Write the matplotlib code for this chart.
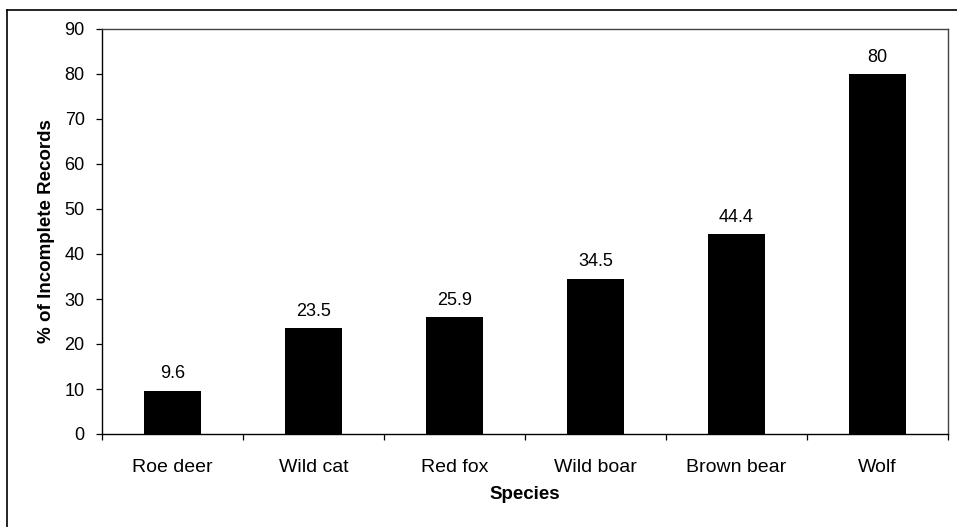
import numpy as np
import matplotlib
matplotlib.use("Agg")
import matplotlib.pyplot as plt
from matplotlib.lines import Line2D

species = ["Roe deer", "Wild cat", "Red fox", "Wild boar", "Brown bear", "Wolf"]
pct_incomplete = [9.6, 23.5, 25.9, 34.5, 44.4, 80]
value_labels = ["9.6", "23.5", "25.9", "34.5", "44.4", "80"]

plt.rcParams["font.family"] = ["Liberation Sans", "DejaVu Sans"]

W, H = 957, 527
fig = plt.figure(figsize=(W / 100, H / 100), dpi=100)
ax = fig.add_axes([102 / W, (H - 434) / H, 846 / W, 405 / H])

x = np.arange(len(species))
ax.bar(x, pct_incomplete, width=0.4, color="black", zorder=2)
for xi, v, lab in zip(x, pct_incomplete, value_labels):
    ax.annotate(lab, (xi, v), xytext=(0, 6), textcoords="offset points",
                ha="center", va="bottom", fontsize=13)

ax.set_xlim(-0.5, len(species) - 0.5)
ax.set_ylim(0, 90)
ax.set_yticks(np.arange(0, 91, 10))
ax.tick_params(axis="y", direction="out", length=4.5, width=0.9, labelsize=13, pad=8)

# category labels in the middle, tick marks on the boundaries
ax.set_xticks(x)
ax.set_xticklabels(species, fontsize=14)
ax.tick_params(axis="x", which="major", length=0, pad=18)
ax.set_xticks(np.arange(-0.5, len(species), 1), minor=True)
ax.tick_params(axis="x", which="minor", direction="out", length=4.5, width=0.9)

for side, sp in ax.spines.items():
    sp.set_linewidth(1.0)
    sp.set_color("black" if side in ("left", "bottom") else "#444444")

ax.set_xlabel("Species", fontsize=13.5, fontweight="bold", labelpad=7)
ax.set_ylabel("% of Incomplete Records", fontsize=13.5, fontweight="bold", labelpad=7)

# outer frame around the chart area
fig.add_artist(Line2D([7 / W, 1], [1 - 10 / H, 1 - 10 / H], color="black", lw=1.2,
                      transform=fig.transFigure))
fig.add_artist(Line2D([7 / W, 7 / W], [0, 1 - 10 / H], color="black", lw=1.2,
                      transform=fig.transFigure))

fig.savefig("out.png", dpi=100)
